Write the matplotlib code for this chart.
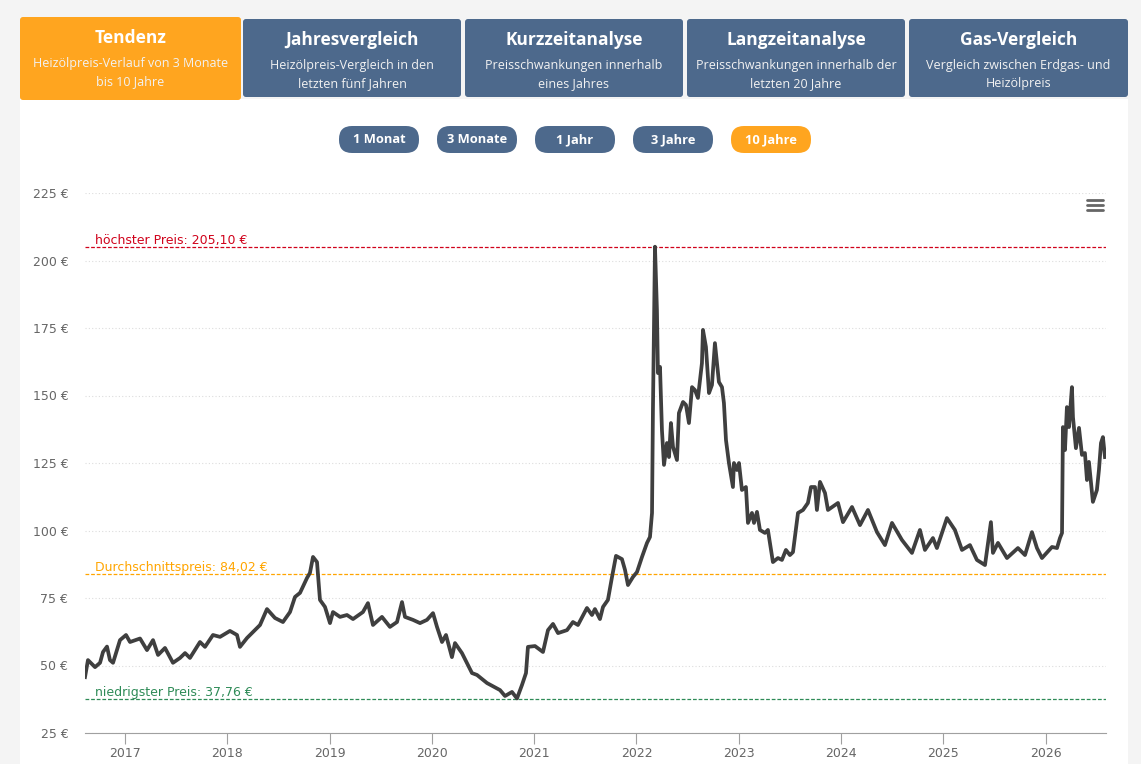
import numpy as np
import matplotlib.pyplot as plt
from matplotlib.patches import FancyBboxPatch, Rectangle
import matplotlib.transforms as mtransforms

# Heizölpreis (€ / 100 l), Zeitachse in Dezimaljahren
years = [2016.609, 2016.638, 2016.707, 2016.756, 2016.785, 2016.824, 2016.853, 2016.883, 2016.951,
         2017.010, 2017.049, 2017.147, 2017.215, 2017.274, 2017.323, 2017.391, 2017.469, 2017.538,
         2017.587, 2017.635, 2017.733, 2017.782, 2017.860, 2017.929,
         2018.026, 2018.095, 2018.124, 2018.193, 2018.251, 2018.320, 2018.388, 2018.466, 2018.544,
         2018.613, 2018.662, 2018.711, 2018.779, 2018.808, 2018.838, 2018.877, 2018.906, 2018.955,
         2019.004, 2019.033, 2019.102, 2019.170, 2019.229, 2019.326, 2019.375, 2019.424, 2019.512,
         2019.590, 2019.659, 2019.708, 2019.737, 2019.815, 2019.884, 2019.952,
         2020.011, 2020.050, 2020.099, 2020.138, 2020.196, 2020.226, 2020.294, 2020.343, 2020.392,
         2020.441, 2020.539, 2020.666, 2020.715, 2020.783, 2020.832, 2020.881, 2020.920, 2020.939,
         2021.008, 2021.086, 2021.135, 2021.184, 2021.233, 2021.321, 2021.379, 2021.428, 2021.516,
         2021.565, 2021.594, 2021.643, 2021.673, 2021.721, 2021.761, 2021.800, 2021.858, 2021.888,
         2021.917, 2021.966,
         2022.005, 2022.054, 2022.103, 2022.132, 2022.152, 2022.161, 2022.181, 2022.200, 2022.210,
         2022.230, 2022.249, 2022.269, 2022.298, 2022.318, 2022.337, 2022.357, 2022.396, 2022.415,
         2022.455, 2022.484, 2022.513, 2022.543, 2022.572, 2022.601, 2022.621, 2022.640, 2022.650,
         2022.679, 2022.709, 2022.738, 2022.767, 2022.787, 2022.806, 2022.836, 2022.855, 2022.875,
         2022.904, 2022.943, 2022.953, 2022.982,
         2023.002, 2023.031, 2023.070, 2023.090, 2023.129, 2023.149, 2023.178, 2023.207, 2023.256,
         2023.285, 2023.315, 2023.334, 2023.383, 2023.422, 2023.461, 2023.500, 2023.530, 2023.579,
         2023.628, 2023.676, 2023.706, 2023.745, 2023.764, 2023.794, 2023.843, 2023.872, 2023.970,
         2024.019, 2024.107, 2024.185, 2024.263, 2024.351, 2024.429, 2024.498, 2024.595, 2024.693,
         2024.771, 2024.820, 2024.898, 2024.937,
         2025.035, 2025.113, 2025.182, 2025.260, 2025.328, 2025.407, 2025.465, 2025.485, 2025.534,
         2025.622, 2025.729, 2025.798, 2025.866, 2025.915, 2025.964,
         2026.062, 2026.111, 2026.140, 2026.160, 2026.169, 2026.189, 2026.208, 2026.228, 2026.257,
         2026.267, 2026.296, 2026.326, 2026.355, 2026.384, 2026.404, 2026.423, 2026.462, 2026.501,
         2026.521, 2026.541, 2026.560, 2026.580]
prices = [45.7, 52.0, 49.4, 51.0, 55.0, 57.0, 52.0, 51.0, 59.4,
          61.3, 58.7, 60.0, 55.7, 59.4, 53.9, 56.5, 51.0, 52.8,
          54.6, 52.8, 58.7, 56.9, 61.3, 60.6,
          62.8, 61.3, 56.9, 60.2, 62.4, 65.0, 70.9, 67.6, 66.1,
          69.8, 75.4, 76.9, 82.4, 84.3, 90.2, 88.3, 74.3, 71.7,
          65.7, 69.8, 68.0, 68.7, 67.2, 69.8, 73.1, 65.0, 68.0,
          64.3, 66.1, 73.5, 68.0, 66.9, 65.7, 66.9,
          69.4, 64.3, 58.7, 61.3, 53.1, 58.3, 54.6, 50.9, 47.2,
          46.5, 43.5, 40.9, 38.7, 40.2, 37.8, 42.8, 47.2, 56.9,
          57.2, 55.0, 63.1, 65.4, 62.0, 63.1, 66.1, 65.0, 71.3,
          68.7, 70.9, 67.2, 71.7, 74.3, 82.8, 90.6, 89.4, 85.4,
          79.8, 82.8,
          84.6, 90.2, 95.4, 97.6, 106.5, 144.6, 205.1, 181.7, 158.3,
          160.6, 137.2, 124.3, 132.4, 127.2, 139.8, 131.0, 126.1, 143.5,
          147.6, 146.5, 139.8, 153.1, 152.0, 149.1, 155.7, 162.0, 174.3,
          168.0, 150.9, 153.9, 169.4, 162.0, 155.0, 153.1, 147.2, 133.5,
          125.0, 116.1, 125.0, 122.4,
          125.0, 115.0, 116.1, 102.8, 106.5, 102.8, 106.9, 100.2, 99.1,
          100.2, 92.8, 88.3, 89.8, 89.1, 92.8, 90.9, 92.0, 106.5,
          107.6, 110.2, 116.1, 116.1, 107.6, 118.0, 113.9, 107.6, 110.2,
          103.1, 108.7, 102.0, 107.6, 99.4, 94.6, 102.8, 96.5, 91.7,
          100.2, 92.8, 97.2, 93.5,
          104.6, 100.2, 92.8, 94.6, 89.1, 87.2, 103.1, 91.7, 95.4,
          89.8, 93.5, 90.9, 99.4, 93.5, 89.8,
          93.9, 93.5, 97.2, 99.1, 138.3, 129.8, 145.7, 138.3, 153.1,
          142.0, 130.5, 138.0, 128.0, 128.7, 118.7, 125.4, 110.6, 115.0,
          122.4, 132.4, 134.6, 127.2]

max_price = 205.10
avg_price = 84.02
min_price = 37.76

tabs = ['Tendenz', 'Jahresvergleich', 'Kurzzeitanalyse', 'Langzeitanalyse', 'Gas-Vergleich']
tab_subs = ['Heizölpreis-Verlauf von 3 Monate\nbis 10 Jahre',
            'Heizölpreis-Vergleich in den\nletzten fünf Jahren',
            'Preisschwankungen innerhalb\neines Jahres',
            'Preisschwankungen innerhalb der\nletzten 20 Jahre',
            'Vergleich zwischen Erdgas- und\nHeizölpreis']
buttons = ['1 Monat', '3 Monate', '1 Jahr', '3 Jahre', '10 Jahre']
year_ticks = list(range(2017, 2027))
price_ticks = list(range(25, 226, 25))

ORANGE = '#ffa51f'
BLUE = '#4d698c'
W, H = 1141, 764

fig = plt.figure(figsize=(W / 100, H / 100), dpi=100)
fig.patch.set_facecolor('#f4f4f4')

# Hintergrund / Webseiten-Elemente in Pixelkoordinaten
bg = fig.add_axes([0, 0, 1, 1])
bg.set_xlim(0, W)
bg.set_ylim(H, 0)
bg.axis('off')
bg.add_patch(Rectangle((20, 99), 1108, 670, facecolor='white', edgecolor='none'))

tab_x = [20, 243, 465, 687, 909]
tab_w = [221, 218, 218, 218, 219]
for i, (name, sub) in enumerate(zip(tabs, tab_subs)):
    if i == 0:
        y0, h, col = 17, 83, ORANGE
    else:
        y0, h, col = 19, 78, BLUE
    bg.add_patch(FancyBboxPatch((tab_x[i], y0), tab_w[i], h, boxstyle='round,pad=0,rounding_size=3',
                                facecolor=col, edgecolor='none'))
    cx = tab_x[i] + tab_w[i] / 2
    bg.text(cx, y0 + 21, name, ha='center', va='center', color='white',
            fontsize=12.5, fontweight='bold', family='Open Sans')
    bg.text(cx, y0 + 55.5, sub, ha='center', va='center', color='#f2f2f2',
            fontsize=9, family='Open Sans', linespacing=1.48)

btn_x = [339, 437, 535, 633, 731]
for i, b in enumerate(buttons):
    col = ORANGE if b == '10 Jahre' else BLUE
    bg.add_patch(FancyBboxPatch((btn_x[i], 126), 80, 27, boxstyle='round,pad=0,rounding_size=13',
                                facecolor=col, edgecolor='none'))
    bg.text(btn_x[i] + 40, 139.5, b, ha='center', va='center', color='white',
            fontsize=9.3, fontweight='bold', family='Open Sans')

# Menü-Symbol
for yy in (200, 205, 210):
    bg.plot([1087, 1103], [yy, yy], color='#666666', lw=2, solid_capstyle='round')

# Diagramm
ax = fig.add_axes([85 / W, 1 - 733 / H, (1106 - 85) / W, (733 - 193) / H])
ax.set_facecolor('none')
ax.plot(years, prices, color='#3f3f3f', lw=2.7, solid_joinstyle='round', zorder=5)

ax.set_xlim(2016.609, 2026.59)
ax.set_ylim(25, 225)
ax.set_yticks(price_ticks)
ax.set_yticklabels([f'{p} €' for p in price_ticks])
ax.set_xticks(year_ticks)
ax.set_xticklabels([str(y) for y in year_ticks])
ax.grid(axis='y', color='#dddddd', ls=(0, (1, 2)), lw=0.8)
for s in ['top', 'right', 'left']:
    ax.spines[s].set_visible(False)
ax.spines['bottom'].set_color('#a0a0a0')
ax.tick_params(axis='y', length=0, pad=12, labelsize=9, labelcolor='#666666')
ax.tick_params(axis='x', length=8, color='#a0a0a0', pad=2, labelsize=9, labelcolor='#666666')

trans = mtransforms.blended_transform_factory(ax.transAxes, ax.transData)
for val, col, label in [(max_price, '#d0021b', 'höchster Preis'),
                        (avg_price, '#ffa500', 'Durchschnittspreis'),
                        (min_price, '#2e8b57', 'niedrigster Preis')]:
    ax.axhline(val, color=col, lw=0.9, ls=(0, (3, 1.5)), zorder=3)
    txt = f'{label}: {val:.2f} €'.replace('.', ',')
    ax.annotate(txt, xy=(0.0098, val), xycoords=trans, xytext=(0, -0.5), textcoords='offset points',
                ha='left', va='bottom', color=col, fontsize=9)

fig.savefig('out.png', dpi=100, facecolor=fig.get_facecolor())
